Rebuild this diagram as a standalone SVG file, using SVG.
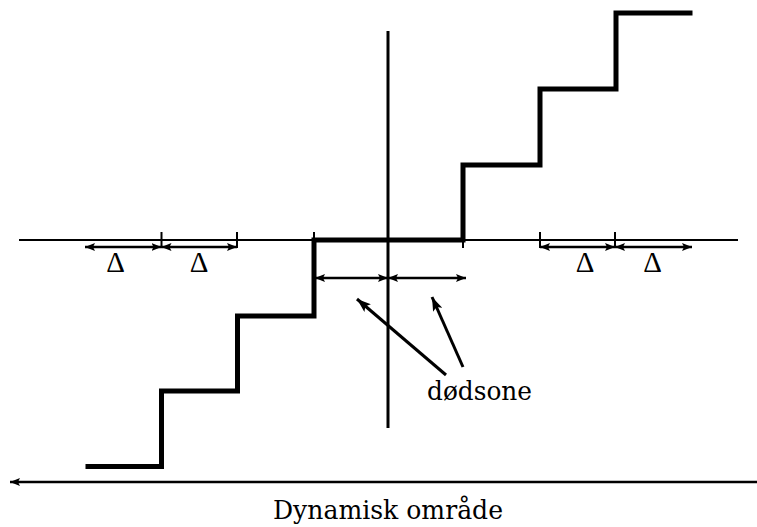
<svg xmlns="http://www.w3.org/2000/svg" width="757" height="527" viewBox="0 0 757 527">
<style>
.ax{stroke:#000;stroke-width:2;fill:none}
.tick{stroke:#000;stroke-width:2;fill:none}
.dim{stroke:#000;stroke-width:2.5;fill:none;marker-start:url(#ah);marker-end:url(#ah)}
.ptr{stroke:#000;stroke-width:3;fill:none;marker-end:url(#ptr)}
.stair{stroke:#000;stroke-width:5;fill:none;stroke-linejoin:miter;stroke-linecap:square}
text{font-family:"DejaVu Serif","Liberation Serif",serif;font-size:26px;fill:#000}
text.d{font-family:"Liberation Serif","DejaVu Serif",serif;font-size:29px}
</style>
<defs>
<marker id="ah" viewBox="0 0 10 8" refX="10" refY="4" markerWidth="10" markerHeight="8" markerUnits="userSpaceOnUse" orient="auto-start-reverse">
<path d="M0,0 L10,4 L0,8 L2,4 Z" fill="#000"/>
</marker>
<marker id="ptr" viewBox="0 0 14 10" refX="14" refY="5" markerWidth="14" markerHeight="10" markerUnits="userSpaceOnUse" orient="auto">
<path d="M0,0 L14,5 L0,10 L3,5 Z" fill="#000"/>
</marker>
</defs>
<g id="axes">
<line class="ax" x1="19" y1="240" x2="738" y2="240"/>
<line x1="388" y1="31" x2="388" y2="428" stroke="#000" stroke-width="3"/>
</g>
<g id="staircase">
<polyline class="stair" points="88,466.5 161.5,466.5 161.5,391 237.5,391 237.5,316 314,316 314,240 463,240 463,165 540,165 540,89 616,89 616,13 690,13"/>
</g>
<g id="connectors">
<line class="tick" x1="161.5" y1="232" x2="161.5" y2="248"/>
<line class="tick" x1="237" y1="232" x2="237" y2="248"/>
<line class="tick" x1="314" y1="232" x2="314" y2="248"/>
<line class="tick" x1="463" y1="232" x2="463" y2="248"/>
<line class="tick" x1="540" y1="232" x2="540" y2="248"/>
<line class="tick" x1="615" y1="232" x2="615" y2="248"/>
<line class="dim" x1="85" y1="247" x2="161.5" y2="247"/>
<line class="dim" x1="161.5" y1="247" x2="237" y2="247"/>
<line class="dim" x1="540" y1="247" x2="615" y2="247"/>
<line class="dim" x1="615" y1="247" x2="692" y2="247"/>
<line class="dim" x1="315" y1="278" x2="388" y2="278"/>
<line class="dim" x1="388" y1="278" x2="466" y2="278"/>
<line class="ptr" x1="446" y1="375" x2="357" y2="299"/>
<line class="ptr" x1="463" y1="367" x2="432" y2="297"/>
<line x1="757" y1="482" x2="10" y2="482" stroke="#000" stroke-width="2.5" marker-end="url(#ah)"/>
</g>
<g id="labels">
<text class="d" x="115.5" y="272" text-anchor="middle">Δ</text>
<text class="d" x="199" y="272" text-anchor="middle">Δ</text>
<text class="d" x="585" y="272" text-anchor="middle">Δ</text>
<text class="d" x="652.5" y="272" text-anchor="middle">Δ</text>
<text x="427" y="400" textLength="105" lengthAdjust="spacingAndGlyphs">dødsone</text>
<text x="273" y="519" textLength="230" lengthAdjust="spacingAndGlyphs">Dynamisk område</text>
</g>
</svg>
